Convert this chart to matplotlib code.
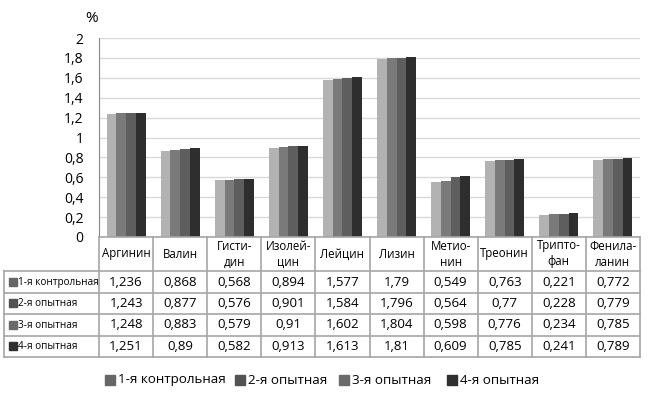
import matplotlib.pyplot as plt
from matplotlib.lines import Line2D
from matplotlib.patches import Rectangle
import numpy as np

plt.rcParams['font.family'] = ['Open Sans', 'DejaVu Sans']

# ___Datos
aminoacidos = ['Аргинин', 'Валин', 'Гисти-\nдин', 'Изолей-\nцин', 'Лейцин',
               'Лизин', 'Метио-\nнин', 'Треонин', 'Трипто-\nфан', 'Фенила-\nланин']
grupos = ['1-я контрольная', '2-я опытная', '3-я опытная', '4-я опытная']
g1 = [1.236, 0.868, 0.568, 0.894, 1.577, 1.79, 0.549, 0.763, 0.221, 0.772]
g2 = [1.243, 0.877, 0.576, 0.901, 1.584, 1.796, 0.564, 0.77, 0.228, 0.779]
g3 = [1.248, 0.883, 0.579, 0.91, 1.602, 1.804, 0.598, 0.776, 0.234, 0.785]
g4 = [1.251, 0.89, 0.582, 0.913, 1.613, 1.81, 0.609, 0.785, 0.241, 0.789]
series = [g1, g2, g3, g4]
yticks = [0, 0.2, 0.4, 0.6, 0.8, 1, 1.2, 1.4, 1.6, 1.8, 2]

colores = ['#b2b2b2', '#7a7a7a', '#5e5e5e', '#2e2e2e']
marcas = ['#666666', '#525252', '#6a6a6a', '#303030']
linea = '#a6a6a6'

W, H = 649, 395
fig = plt.figure(figsize=(W / 100, H / 100), dpi=100)


def fx(px):
    return px / W


def fy(py):
    return 1 - py / H


# ___Area del grafico
x0, x1, ytop, ybot = 99, 640, 38, 237
ax = fig.add_axes([fx(x0), fy(ybot), fx(x1 - x0), (ybot - ytop) / H])
n = len(aminoacidos)
x = np.arange(n)
ancho = 0.18
for i, s in enumerate(series):
    ax.bar(x + (i - 1.5) * ancho, s, width=ancho, color=colores[i], zorder=3)

ax.set_xlim(-0.5, n - 0.5)
ax.set_ylim(0, 2)
ax.set_yticks(yticks)
ax.set_yticklabels([str(t).replace('.', ',') if t not in (0, 1, 2) else str(int(t)) for t in yticks],
                   fontsize=10)
ax.set_xticks([])
ax.tick_params(axis='y', length=0, pad=11)
ax.grid(axis='y', color='#d9d9d9', lw=1, zorder=0)
for lado in ['top', 'right', 'bottom']:
    ax.spines[lado].set_visible(False)
ax.spines['left'].set_color('#888888')
fig.text(fx(92), fy(19), '%', fontsize=11, ha='center', va='center')

# ___Tabla
def raya(xa, ya, xb, yb):
    fig.add_artist(Line2D([fx(xa), fx(xb)], [fy(ya), fy(yb)], color=linea, lw=1.2))


filas = [237, 271, 293, 314, 336, 357]
paso = (x1 - x0) / n
raya(x0, filas[0], x1, filas[0])
for yy in filas[1:]:
    raya(4, yy, x1, yy)
raya(4, filas[1], 4, filas[-1])
for j in range(n + 1):
    raya(x0 + j * paso, filas[0], x0 + j * paso, filas[-1])

for j, nombre in enumerate(aminoacidos):
    fig.text(fx(x0 + (j + 0.5) * paso), fy((filas[0] + filas[1]) / 2), nombre,
             fontsize=8.3, ha='center', va='center', linespacing=1.3)

for i, s in enumerate(series):
    yc = fy((filas[i + 1] + filas[i + 2]) / 2)
    fig.add_artist(Rectangle((fx(9), yc - 3.5 / H), 8 / W, 8 / H,
                             transform=fig.transFigure, color=marcas[i]))
    fig.text(fx(18), yc, grupos[i], fontsize=7.2, ha='left', va='center')
    for j, v in enumerate(s):
        fig.text(fx(x0 + (j + 0.5) * paso), yc, str(v).replace('.', ','),
                 fontsize=9.5, ha='center', va='center')

# ___Leyenda
pos_ley = [105, 235, 339, 447]
yl = fy(380)
for i, g in enumerate(grupos):
    fig.add_artist(Rectangle((fx(pos_ley[i]), yl - 4.5 / H), 10 / W, 10 / H,
                             transform=fig.transFigure, color=marcas[i]))
    fig.text(fx(pos_ley[i] + 13), yl, g, fontsize=9.6, ha='left', va='center')

fig.savefig('out.png', dpi=100)
